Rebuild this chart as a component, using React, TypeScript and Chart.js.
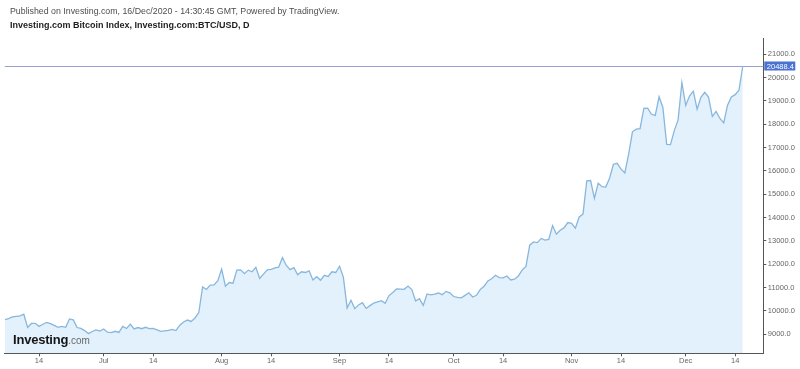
import React, { useEffect, useRef } from "react";
import { Chart, registerables } from "chart.js";

Chart.register(...registerables);

// Daily BTC/USD closes, starting 5 Jun 2020 (day index 0)
const junValues = [
  9630, 9670, 9750, 9770, 9790, 9860, 9290, 9465, 9470, 9340, 9430, 9510, 9460,
  9380, 9300, 9340, 9300, 9660, 9620, 9290, 9250, 9160, 9030, 9120, 9190, 9140,
];
const julValues = [
  9230, 9090, 9070, 9130, 9080, 9340, 9250, 9430, 9230, 9290, 9240, 9300, 9240,
  9250, 9190, 9130, 9150, 9170, 9210, 9160, 9390, 9530, 9610, 9550, 9700, 9930,
  11030, 10920, 11110, 11120, 11300,
];
const augValues = [
  11790, 11060, 11220, 11190, 11750, 11760, 11600, 11750, 11680, 11870, 11390,
  11580, 11760, 11780, 11850, 11880, 12290, 11950, 11770, 11860, 11550, 11680,
  11650, 11720, 11330, 11470, 11320, 11530, 11480, 11680, 11650,
];
const sepValues = [
  11920, 11450, 10130, 10460, 10100, 10260, 10360, 10110, 10230, 10340, 10390,
  10440, 10330, 10660, 10790, 10950, 10940, 10930, 11070, 10920, 10430, 10530,
  10240, 10730, 10690, 10720, 10770, 10700, 10840, 10780,
];
const octValues = [
  10620, 10580, 10560, 10670, 10780, 10600, 10670, 10920, 11060, 11290, 11380,
  11530, 11430, 11420, 11500, 11330, 11360, 11500, 11750, 11910, 12820, 12960,
  12930, 13110, 13040, 13070, 13660, 13290, 13460, 13560, 13790,
];
const novValues = [
  13760, 13550, 14030, 14150, 15580, 15590, 14830, 15480, 15330, 15310, 15700,
  16290, 16330, 16080, 15920, 16720, 17680, 17790, 17810, 18680, 18690, 18430,
  18380, 19180, 18720, 17140, 17130, 17730, 18190, 19790,
];
const decValues = [
  18810, 19210, 19420, 18650, 19160, 19370, 19170, 18340, 18550, 18250, 18060,
  18820, 19170, 19270, 19460, 20488.4,
];

const lastPrice = 20488.4;

// x tick positions (day index from 5 Jun) and their labels
const tickDays = [9, 26, 39, 57, 70, 88, 101, 118, 131, 149, 162, 179, 192];
const tickLabels = ["14", "Jul", "14", "Aug", "14", "Sep", "14", "Oct", "14", "Nov", "14", "Dec", "14"];
const yTicks = [9000, 10000, 11000, 12000, 13000, 14000, 15000, 16000, 17000, 18000, 19000, 20000, 21000];

const FONT = "'Liberation Sans', Arial, sans-serif";

export default function App() {
  const ref = useRef<HTMLCanvasElement | null>(null);

  useEffect(() => {
    const values = [
      ...junValues,
      ...julValues,
      ...augValues,
      ...sepValues,
      ...octValues,
      ...novValues,
      ...decValues,
    ];
    const points = values.map((v, i) => ({ x: i, y: v }));

    const priceLine = {
      id: "priceLine",
      beforeDatasetsDraw(chart: any) {
        const { ctx, chartArea, scales } = chart;
        const y = Math.round(scales.y.getPixelForValue(lastPrice)) + 0.5;
        ctx.save();
        ctx.strokeStyle = "#93a3cf";
        ctx.lineWidth = 1;
        ctx.beginPath();
        ctx.moveTo(chartArea.left, y);
        ctx.lineTo(chartArea.right, y);
        ctx.stroke();
        ctx.restore();
      },
      afterDraw(chart: any) {
        const { ctx, chartArea, scales } = chart;
        const y = Math.round(scales.y.getPixelForValue(lastPrice));
        const x = chartArea.right + 1;
        ctx.save();
        ctx.fillStyle = "#4a72d2";
        ctx.fillRect(x, y - 4.5, 31, 9);
        ctx.fillStyle = "#ffffff";
        ctx.font = `7.5px ${FONT}`;
        ctx.textBaseline = "middle";
        ctx.textAlign = "left";
        ctx.fillText(lastPrice.toFixed(1), x + 2.5, y + 0.5);
        ctx.restore();
      },
    };

    const chart = new Chart(ref.current as HTMLCanvasElement, {
      type: "line",
      data: {
        datasets: [
          {
            data: points,
            borderColor: "#88b7de",
            borderWidth: 1.3,
            backgroundColor: "#e2f1fb",
            fill: "start",
            pointRadius: 0,
            tension: 0,
          },
        ],
      },
      options: {
        animation: false,
        responsive: false,
        maintainAspectRatio: false,
        layout: { padding: { left: 4.8, top: 38, right: 0, bottom: 0 } },
        plugins: {
          legend: { display: false },
          tooltip: { enabled: false },
          title: { display: false },
        },
        scales: {
          x: {
            type: "linear",
            min: 0,
            max: 199.4,
            position: "bottom",
            afterBuildTicks: (s: any) => {
              s.ticks = tickDays.map((v) => ({ value: v }));
            },
            afterFit: (s: any) => {
              s.height = 15.7;
            },
            ticks: {
              autoSkip: false,
              maxRotation: 0,
              minRotation: 0,
              padding: 0.5,
              color: "#666",
              font: { size: 7.5, family: FONT },
              callback: (v: any) => {
                const i = tickDays.indexOf(Number(v));
                return i >= 0 ? tickLabels[i] : "";
              },
            },
            grid: {
              drawOnChartArea: false,
              drawTicks: true,
              tickLength: 3,
              color: "#555",
            },
            border: { display: true, color: "#555", width: 1 },
          },
          y: {
            type: "linear",
            position: "right",
            min: 8186,
            max: 21699,
            afterBuildTicks: (s: any) => {
              s.ticks = yTicks.map((v) => ({ value: v }));
            },
            afterFit: (s: any) => {
              s.width = 36.7;
            },
            ticks: {
              padding: 1.5,
              color: "#666",
              font: { size: 7.5, family: FONT },
              callback: (v: any) => Number(v).toFixed(1),
            },
            grid: {
              drawOnChartArea: false,
              drawTicks: true,
              tickLength: 3,
              color: "#555",
            },
            border: { display: true, color: "#555", width: 1 },
          },
        },
      },
      plugins: [priceLine],
    } as any);

    return () => chart.destroy();
  }, []);

  return (
    <div
      style={{
        position: "absolute",
        left: 0,
        top: 0,
        width: 800,
        height: 369,
        background: "#fff",
        overflow: "hidden",
        fontFamily: FONT,
      }}
    >
      <canvas ref={ref} width={800} height={369} style={{ position: "absolute", left: 0, top: 0, width: 800, height: 369 }} />
      <div
        style={{
          position: "absolute",
          left: 10,
          top: 6,
          fontSize: 8.8,
          lineHeight: "11px",
          color: "#4d4d4d",
          whiteSpace: "nowrap",
        }}
      >
        Published on Investing.com, 16/Dec/2020 - 14:30:45 GMT, Powered by TradingView.
      </div>
      <div
        style={{
          position: "absolute",
          left: 10,
          top: 19.5,
          fontSize: 9,
          lineHeight: "11px",
          fontWeight: "bold",
          color: "#1e1e1e",
          whiteSpace: "nowrap",
        }}
      >
        Investing.com Bitcoin Index, Investing.com:BTC/USD, D
      </div>
      <div
        style={{
          position: "absolute",
          left: 13,
          top: 331,
          lineHeight: "15px",
          whiteSpace: "nowrap",
        }}
      >
        <span style={{ fontSize: 13, fontWeight: "bold", color: "#151515", letterSpacing: -0.2 }}>Investing</span>
        <span style={{ fontSize: 10, color: "#6a6a6a" }}>.com</span>
      </div>
    </div>
  );
}
